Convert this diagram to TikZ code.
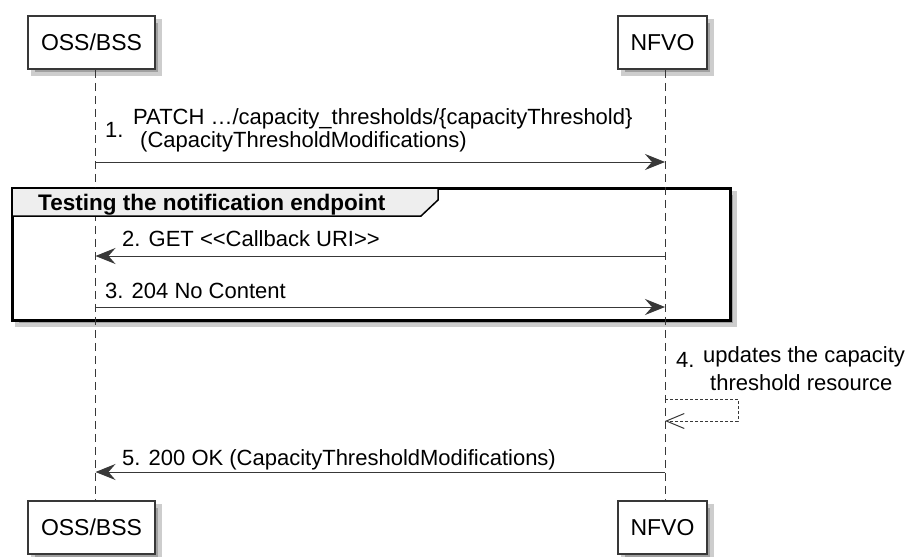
\documentclass[tikz,border=0pt]{standalone}
\usepackage{fontspec}
\setmainfont{Liberation Sans}
\usetikzlibrary{arrows.meta, positioning, calc}
\definecolor{linecolor}{RGB}{56,56,56}
\definecolor{headcolor}{RGB}{238,238,238}
\definecolor{shadowcolor}{RGB}{160,160,160}
\definecolor{shadowedge}{RGB}{205,205,205}
\tikzset{
  participant/.style={draw=linecolor, line width=1.5pt, fill=white,
                      minimum height=53pt, inner sep=0pt,
                      font=\fontsize{23}{27}\selectfont},
  lifeline/.style={draw=linecolor, line width=1pt, dash pattern=on 8pt off 5pt},
  msg/.style={draw=linecolor, line width=1pt,
              -{Stealth[length=20pt, width=16pt, inset=7pt]}},
  selfmsg/.style={draw=linecolor, line width=1pt, dash pattern=on 3pt off 2pt,
                  -{Straight Barb[length=18pt, width=15pt]}},
  msglabel/.style={font=\fontsize{22}{26}\selectfont, inner sep=0pt,
                   anchor=base west},
  groupframe/.style={draw=black, line width=3pt, fill=white, outer sep=0pt,
                     inner sep=0pt},
  grouphead/.style={draw=black, line width=1.5pt, fill=headcolor},
  grouptitle/.style={font=\fontsize{22.5}{26}\selectfont\bfseries, inner sep=0pt,
                     anchor=base west},
  boxshadow/.style={fill=shadowcolor, draw=shadowedge, line width=4pt},
}

\begin{document}
\begin{tikzpicture}[x=1pt, y=-1pt]
  \useasboundingbox (0,0) rectangle (908,557);

  % --- Lifeline positions ---
  \coordinate (oss) at (95.5,0);
  \coordinate (nfvo) at (665,0);

  % --- Shadows ---
  \foreach \bx/\by/\bw/\bh in {28/16/127/53, 618/16/89/53, 28/501/127/53,
                               618/501/89/53, 12/188/718/132}
    \path[boxshadow] (\bx+5,\by+5) rectangle ++(\bw,\bh);

  % --- Group frame ---
  \node[groupframe, minimum width=718pt, minimum height=132pt]
    (grp) at (371,254) {};

  % --- Participants ---
  \node[participant, minimum width=127pt] (ossTop) at (91.5,42.5) {OSS/BSS};
  \node[participant, minimum width=89pt] (nfvoTop) at (662.5,42.5) {NFVO};
  \node[participant, minimum width=127pt, below=430.5pt of ossTop]
    (ossBot) {OSS/BSS};
  \node[participant, minimum width=89pt, below=430.5pt of nfvoTop]
    (nfvoBot) {NFVO};

  \draw[lifeline] (ossTop.south -| oss) -- (ossBot.north -| oss);
  \draw[lifeline] (nfvoTop.south -| nfvo) -- (nfvoBot.north -| nfvo);

  % --- Group header ---
  \draw[grouphead] (grp.north west) -- ++(426,0) -- ++(0,12) -- ++(-17,16)
    -- ($(grp.north west)+(0,28)$) -- cycle;
  \node[grouptitle] (grpTitle) at (38,210) {Testing the notification endpoint};

  % --- Messages ---
  \coordinate (m1) at (0,162);
  \coordinate (m2) at (0,256);
  \coordinate (m3) at (0,307);
  \coordinate (m4a) at (0,399);
  \coordinate (m4b) at (0,421);
  \coordinate (m5) at (0,472);

  \draw[msg] (oss |- m1) -- (nfvo |- m1);
  \node[msglabel] (m1num) at (105,137) {1.};
  \node[msglabel] (m1txt) at (133,124)
    {PATCH …/capacity\_thresholds/\{capacityThreshold\}};
  \node[msglabel] (m1txtb) at (140,147) {(CapacityThresholdModifications)};

  \draw[msg] (nfvo |- m2) -- (oss |- m2);
  \node[msglabel] (m2txt) at (122,246)
    {2. GET <\kern0pt<Callback URI>\kern0pt>};

  \draw[msg] (oss |- m3) -- (nfvo |- m3);
  \node[msglabel] (m3txt) at (105,298) {3. 204 No Content};

  \draw[selfmsg] (nfvo |- m4a) -- ++(73,0) -- ++(0,22) -- (nfvo |- m4b);
  \node[msglabel] (m4num) at (676,367) {4.};
  \node[msglabel] (m4txt) at (703,362) {updates the capacity};
  \node[msglabel] (m4txtb) at (710,390) {threshold resource};

  \draw[msg] (nfvo |- m5) -- (oss |- m5);
  \node[msglabel] (m5txt) at (122,465)
    {5. 200 OK (CapacityThresholdModifications)};

\end{tikzpicture}
\end{document}
